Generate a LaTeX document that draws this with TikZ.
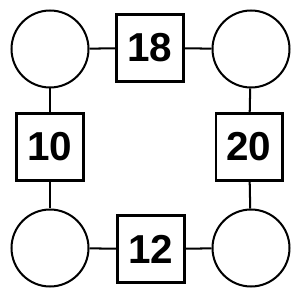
\documentclass[tikz,border=0pt]{standalone}
\usepackage{fontspec}
\setmainfont{Liberation Sans}
\usepackage{tikz}

\tikzset{
  ring/.style={circle,draw,line width=1.15pt,minimum size=1.54cm,inner sep=0pt},
  numbox/.style={rectangle,draw,line width=1.15pt,minimum size=1.34cm,inner sep=0pt,
    font=\fontsize{23}{26}\selectfont\bfseries}
}

\begin{document}
\begin{tikzpicture}[x=0.02cm,y=-0.02cm]
\useasboundingbox (0,0) rectangle (300,300);
\node[ring] (tl) at (50,49) {};
\node[ring] (tr) at (251,49) {};
\node[ring] (bl) at (50,248) {};
\node[ring] (br) at (251,248) {};
\node[numbox] (top) at (150,48) {18};
\node[numbox] (left) at (50,147) {10};
\node[numbox] (right) at (249,147) {20};
\node[numbox] (bot) at (151,249) {12};
\draw[line width=1.15pt] (tl) -- (top) -- (tr);
\draw[line width=1.15pt] (tl) -- (left) -- (bl);
\draw[line width=1.15pt] (tr) -- (right) -- (br);
\draw[line width=1.15pt] (bl) -- (bot) -- (br);
\end{tikzpicture}
\end{document}
